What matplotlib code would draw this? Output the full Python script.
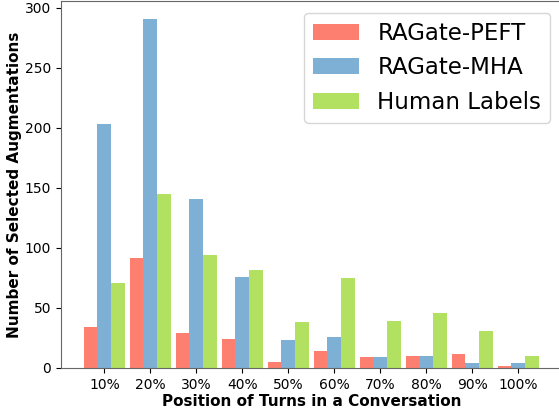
import numpy as np
import matplotlib.pyplot as plt

# Position of the turn within a conversation
positions = ['10%', '20%', '30%', '40%', '50%', '60%', '70%', '80%', '90%', '100%']

# Number of selected augmentations per position
ragate_peft = [34, 92, 29, 24, 5, 14, 9, 10, 12, 2]
ragate_mha = [203, 291, 141, 76, 23, 26, 9, 10, 4, 4]
human_labels = [71, 145, 94, 82, 38, 75, 39, 46, 31, 10]

x = np.arange(len(positions))
width = 0.3

fig = plt.figure(figsize=(5.59, 4.12), dpi=100)
ax = fig.add_axes([0.109, 0.1068, 0.896, 0.89])

ax.bar(x - width, ragate_peft, width, color='#fd7f6f', label='RAGate-PEFT')
ax.bar(x, ragate_mha, width, color='#7eb0d5', label='RAGate-MHA')
ax.bar(x + width, human_labels, width, color='#b2e061', label='Human Labels')

ax.set_xticks(x)
ax.set_xticklabels(positions)
ax.tick_params(labelsize=10)
ax.set_xlabel('Position of Turns in a Conversation', fontsize=11, fontweight='bold', labelpad=2)
ax.set_ylabel('Number of Selected Augmentations', fontsize=11, fontweight='bold', labelpad=2)
for s in ax.spines.values():
    s.set_color('#666666')

ax.legend(fontsize=16.5, loc='upper right')

fig.savefig('out.png', dpi=100)
